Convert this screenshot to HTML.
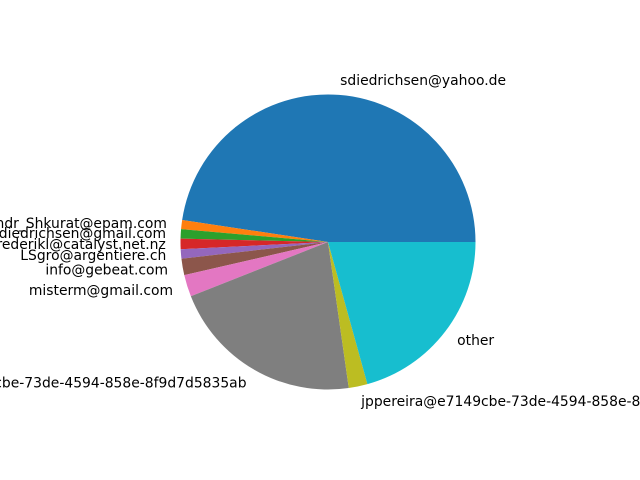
<!DOCTYPE html>
<html><head><meta charset="utf-8"><style>body{margin:0;background:#fff}svg{display:block}</style></head>
<body>
<svg id="chart" width="640" height="480" xmlns="http://www.w3.org/2000/svg" font-family="DejaVu Sans, Liberation Sans, sans-serif" font-size="13.9px"></svg>
<script>
const labels = ["sdiedrichsen@yahoo.de","Andr_Shkurat@epam.com","sdiedrichsen@gmail.com","frederikl@catalyst.net.nz","LSgro@argentiere.ch","info@gebeat.com","misterm@gmail.com","jppereira@e7149cbe-73de-4594-858e-8f9d7d5835ab","jppereira@e7149cbe-73de-4594-858e-8f9d7d5835ab","other"];
const values = [171.4,3.6,3.7,4.1,3.7,6.5,8.6,76.5,7.4,74.5];
const colors = ["#1f77b4","#ff7f0e","#2ca02c","#d62728","#9467bd","#8c564b","#e377c2","#7f7f7f","#bcbd22","#17becf"];
const svg=document.getElementById('chart');
const NS="http://www.w3.org/2000/svg";
const cx=328,cy=242,r=147.5;
const total=values.reduce((a,b)=>a+b,0);
let a0=0;
values.forEach((v,i)=>{
  const a1=a0+v/total*2*Math.PI;
  const x0=cx+r*Math.cos(a0),y0=cy-r*Math.sin(a0),x1=cx+r*Math.cos(a1),y1=cy-r*Math.sin(a1);
  const p=document.createElementNS(NS,'path');
  p.setAttribute('d',`M${cx},${cy}L${x0},${y0}A${r},${r} 0 ${(a1-a0)>Math.PI?1:0} 0 ${x1},${y1}Z`);
  p.setAttribute('fill',colors[i]);
  
  
  svg.appendChild(p);
  const am=(a0+a1)/2;
  const lx=cx+1.1*r*Math.cos(am),ly=cy-1.1*r*Math.sin(am)+1;
  const t=document.createElementNS(NS,'text');
  t.setAttribute('x',lx);t.setAttribute('y',ly);
  t.setAttribute('text-anchor',Math.cos(am)>=0?'start':'end');
  t.setAttribute('dominant-baseline','central');
  t.textContent=labels[i];
  
  
  svg.appendChild(t);
  a0=a1;
});
</script>
</body></html>
